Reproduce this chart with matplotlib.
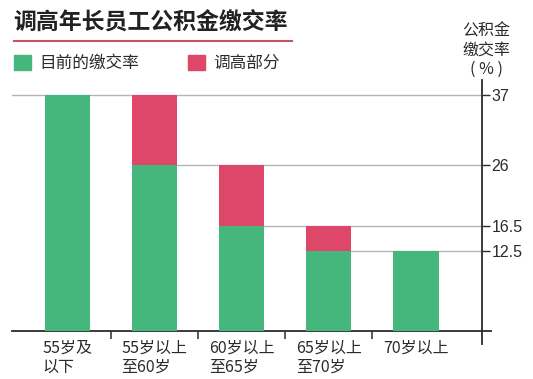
import matplotlib
matplotlib.use('Agg')
import matplotlib.pyplot as plt
from matplotlib.patches import Patch
from matplotlib.lines import Line2D

plt.rcParams['font.family'] = ['Noto Sans CJK SC', 'DejaVu Sans']

# data
groups = ['55岁及\n以下', '55岁以上\n至60岁', '60岁以上\n至65岁', '65岁以上\n至70岁', '70岁以上']
current = [37, 26, 16.5, 12.5, 12.5]
raise_part = [0, 11, 9.5, 4, 0]
yticks = [12.5, 16.5, 26, 37]
ytick_labels = ['12.5', '16.5', '26', '37']

green = '#45b77d'
red = '#de476a'
ink = '#2b2b2b'

fig = plt.figure(figsize=(5.33, 3.79), dpi=100)
ax = fig.add_axes([12 / 533, 48 / 379, 470 / 533, 251 / 379])

x = list(range(len(groups)))
w = 0.52
ax.bar(x, current, width=w, color=green, zorder=3)
ax.bar(x, raise_part, width=w, bottom=current, color=red, zorder=3)

ax.set_xlim(-0.637, 4.759)
ax.set_ylim(0, 39.3)

# leader lines from each level to the value axis
drawn = set()
for i, v in enumerate(current):
    if v in drawn:
        continue
    drawn.add(v)
    start = ax.get_xlim()[0] if i == 0 else i
    ax.plot([start, ax.get_xlim()[1]], [v, v], color='#b5b5b5', lw=1, zorder=1)

for s in ax.spines.values():
    s.set_visible(False)

# axis lines (slightly overshooting like the original)
ax.plot([0, 1 + 9 / 470], [0, 0], transform=ax.transAxes, color=ink, lw=1.3, clip_on=False)
ax.plot([1, 1], [-13 / 251, 1], transform=ax.transAxes, color=ink, lw=1.3, clip_on=False)

ax.yaxis.tick_right()
ax.set_yticks(yticks)
ax.set_yticklabels(ytick_labels, family=['Liberation Sans', 'DejaVu Sans'], fontsize=11.5, color=ink)
ax.tick_params(axis='y', direction='out', length=6, width=1, color=ink, pad=1)

ax.set_xticks([i + 0.5 for i in range(len(groups) - 1)])
ax.set_xticklabels([])
ax.tick_params(axis='x', direction='out', length=6, width=1.1, color=ink)

for i, g in enumerate(groups):
    ax.text(i, -1.4, g, ha='center', va='top', multialignment='left',
            fontsize=11.5, fontweight='medium', color=ink, linespacing=1.12)

# title and underline
fig.text(13 / 533, 1 - 22 / 379, '调高年长员工公积金缴交率', fontsize=16.5, fontweight='heavy',
         color='#222222', ha='left', va='center')
fig.add_artist(Line2D([13.6 / 533, 292 / 533], [1 - 41 / 379, 1 - 41 / 379],
                      color='#c9506a', lw=1.5))

# legend
handles = [Patch(color=green, label='目前的缴交率'), Patch(color=red, label='调高部分')]
fig.legend(handles=handles, loc='upper left', bbox_to_anchor=(14 / 533, 1 - 55 / 379),
           ncol=2, frameon=False, fontsize=12, handlelength=1.0, handleheight=1.0,
           handletextpad=0.55, columnspacing=2.9, borderpad=0, borderaxespad=0,
           labelcolor=ink, prop={'size': 12, 'weight': 'medium'})

# value axis title
fig.text(486 / 533, 1 - 50 / 379, '公积金\n缴交率\n( % )', fontsize=11.5, fontweight='medium',
         color=ink, ha='center', va='center', linespacing=1.15)

fig.savefig('out.png', dpi=100, facecolor='white')
